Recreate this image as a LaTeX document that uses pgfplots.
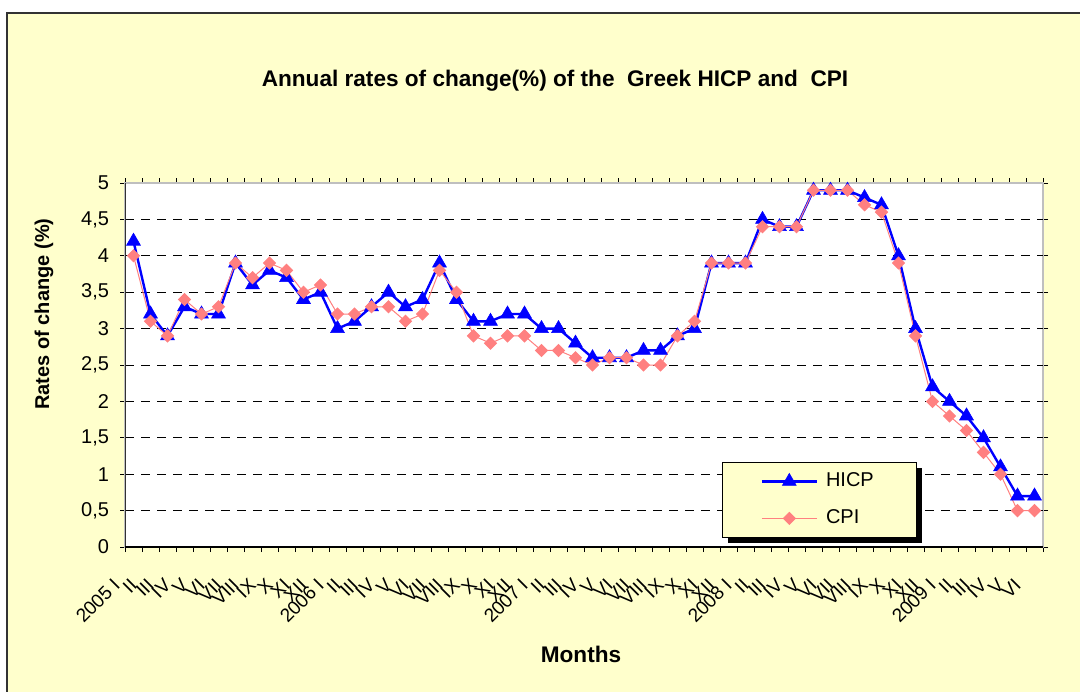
\documentclass[border=0pt]{standalone}
\usepackage{pgfplots}
\pgfplotsset{compat=1.18}
\usepackage{pgfplotstable}
\usepackage{fontspec}
\setmainfont{Liberation Sans}
\definecolor{bgyellow}{RGB}{255,255,204}
\definecolor{hicpblue}{RGB}{0,0,255}
\definecolor{cpisalmon}{RGB}{255,128,128}
\pgfplotstableread{
idx hicp cpi
0 4.2 4.0
1 3.2 3.1
2 2.9 2.9
3 3.3 3.4
4 3.2 3.2
5 3.2 3.3
6 3.9 3.9
7 3.6 3.7
8 3.8 3.9
9 3.7 3.8
10 3.4 3.5
11 3.5 3.6
12 3.0 3.2
13 3.1 3.2
14 3.3 3.3
15 3.5 3.3
16 3.3 3.1
17 3.4 3.2
18 3.9 3.8
19 3.4 3.5
20 3.1 2.9
21 3.1 2.8
22 3.2 2.9
23 3.2 2.9
24 3.0 2.7
25 3.0 2.7
26 2.8 2.6
27 2.6 2.5
28 2.6 2.6
29 2.6 2.6
30 2.7 2.5
31 2.7 2.5
32 2.9 2.9
33 3.0 3.1
34 3.9 3.9
35 3.9 3.9
36 3.9 3.9
37 4.5 4.4
38 4.4 4.4
39 4.4 4.4
40 4.9 4.9
41 4.9 4.9
42 4.9 4.9
43 4.8 4.7
44 4.7 4.6
45 4.0 3.9
46 3.0 2.9
47 2.2 2.0
48 2.0 1.8
49 1.8 1.6
50 1.5 1.3
51 1.1 1.0
52 0.7 0.5
53 0.7 0.5
}\datatable
\begin{document}
\begin{tikzpicture}
\clip (0pt,0pt) rectangle (540pt,-345.5pt);
\fill[white] (0pt,0pt) rectangle (540pt,-345.5pt);
\draw[fill=bgyellow, draw=black!80, line width=1pt] (3.5pt,-6.5pt) rectangle (560pt,-360pt);
\begin{axis}[
  at={(62.5pt,-273.5pt)}, anchor=south west,
  scale only axis, width=459pt, height=182pt,
  xmin=-0.5, xmax=53.5, ymin=0, ymax=5,
  axis background/.style={fill=white},
  axis line style={draw=black!25, line width=0.8pt},
  tick align=outside,
  xtick={0,...,53},
  major x tick style={draw=none},
  minor xtick={-0.5,0.5,...,53.5},
  minor x tick style={black, line width=0.5pt},
  minor tick length=2.5pt,
  major tick length=2.5pt,
  ytick={0,0.5,...,5},
  y tick style={black, line width=0.5pt},
  extra y ticks={0.5,1,...,4.5},
  extra y tick labels={},
  extra y tick style={grid=major, major tick length=0pt},
  grid style={black, dash pattern=on 4.5pt off 3.5pt, line width=0.5pt},
  /pgf/number format/assume math mode=true,
  /pgf/number format/use comma,
  yticklabel style={font=\fontsize{10}{12}\selectfont, xshift=-2pt},
  xticklabels={2005 I,II,III,IV,V,VI,VII,VIII,IX,X,XI,XII,2006 I,II,III,IV,V,VI,VII,VIII,IX,X,XI,XII,2007 I,II,III,IV,V,VI,VII,VIII,IX,X,XI,XII,2008 I,II,III,IV,V,VI,VII,VIII,IX,X,XI,XII,2009 I,II,III,IV,V,VI},
  xticklabel style={font=\fontsize{9.5}{11}\selectfont, xshift=-6pt, yshift=-12.5pt, rotate=45, anchor=east},
  legend style={at={(0.65,0.025)}, anchor=south west, fill=bgyellow, draw=black, line width=0.5pt,
    minimum width=97pt, minimum height=37.5pt, inner sep=0pt,
    nodes={minimum width=0pt, minimum height=0pt, inner sep=2pt},
    row sep=6pt, column sep=2pt,
    font=\fontsize{10}{12}\selectfont},
  legend cell align=left,
  legend image code/.code={\draw[mark repeat=2,mark phase=2,#1] plot coordinates {(0pt,0pt) (13.75pt,0pt) (27.5pt,0pt)};},
]
\addplot[hicpblue, line width=1.2pt, mark=triangle*, mark size=4pt, mark options={fill=hicpblue, draw=hicpblue, line width=0.3pt}] table[x=idx, y=hicp] {\datatable};
\addlegendentry{HICP}
\addplot[cpisalmon, line width=0.5pt, mark=square*, mark size=2.1pt, mark options={rotate=45, fill=cpisalmon, draw=cpisalmon}] table[x=idx, y=cpi] {\datatable};
\addlegendentry{CPI}
\draw[black!80, line width=1pt] (rel axis cs:0,1) -- (rel axis cs:0,0);
\draw[black, line width=0.8pt] (rel axis cs:0,0) -- (rel axis cs:1,0);
\fill[black] (rel axis cs:0.65,0.025) ++(3pt,-2.5pt) rectangle ++(97pt,37.5pt);
\end{axis}
\node[font=\bfseries\fontsize{11.3}{13}\selectfont] at (277.5pt,-40.5pt) {Annual rates of change(\%) of the\ \ Greek HICP and\ \ CPI};
\node[font=\bfseries\fontsize{10}{12}\selectfont, rotate=90] at (22pt,-157pt) {Rates of change (\%)};
\node[font=\bfseries\fontsize{11.3}{13}\selectfont] at (290.5pt,-327pt) {Months};
\end{tikzpicture}
\end{document}
